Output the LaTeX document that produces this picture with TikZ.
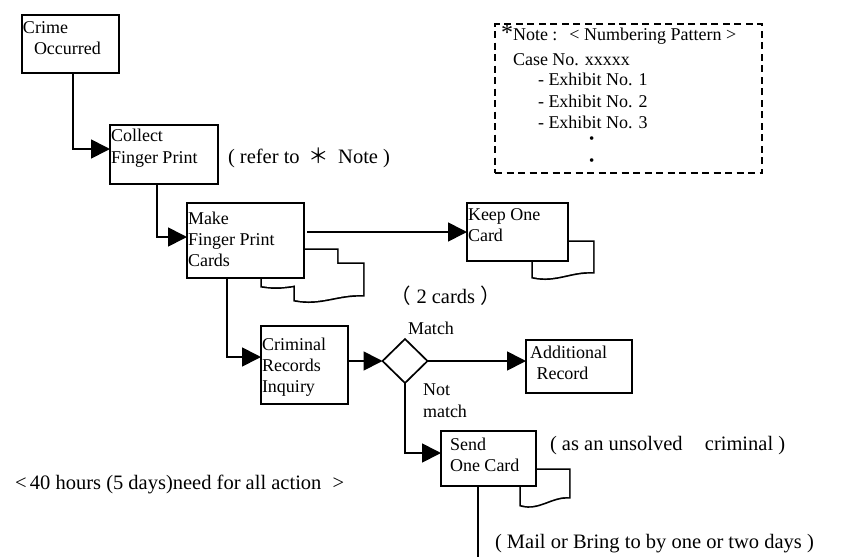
\documentclass[tikz,border=0pt]{standalone}
\usepackage{fontspec}
\setmainfont{Liberation Serif}
\newfontfamily\cjk{Noto Sans CJK SC}
\usetikzlibrary{shapes.geometric,arrows.meta}
\newcommand\rows[1]{\begin{tabular}[t]{@{}l@{}}#1\end{tabular}}

\begin{document}
\begin{tikzpicture}[x=1pt,y=-1pt,
  every node/.style={inner sep=0pt, outer sep=0pt, font=\fontsize{18}{21.3}\selectfont},
  flowbox/.style 2 args={draw, fill=white, line width=1.7pt, anchor=north west,
    minimum width=#1, minimum height=#2},
  decision/.style={diamond, draw, fill=white, line width=1.7pt,
    minimum width=45pt, minimum height=44pt},
  notebox/.style={draw, dash pattern=on 7pt off 4.5pt, line width=1.5pt,
    anchor=north west, minimum width=267pt, minimum height=149pt},
  conn/.style={line width=1.7pt},
  flow/.style={conn, -{Triangle[length=19pt,width=19pt]}},
  txt/.style={anchor=base west, align=left},
  remark/.style={txt, font=\fontsize{20.5}{24}\selectfont},
  % card outline with a wavy lower edge: left, top, right, right foot, left foot
  sheet/.style n args={5}{insert path={(#1,#2) -- (#3,#2) -- (#3,#4)
    .. controls ({#1+0.62*(#3-#1)},{#4-1}) and ({#1+0.38*(#3-#1)},{#5+5}) .. (#1,#5) -- cycle}},
  sheetedge/.style={draw, line width=3.4pt},
  sheetfill/.style={fill=white},
]
\fill[white] (0,0) rectangle (843,557);
\useasboundingbox (0,0) rectangle (843,557);

% stacked cards behind the boxes (outer outline only)
\path[sheetedge, sheet={295}{264}{363}{295}{300}, sheet={262}{250}{337}{280}{286}];
\path[sheetfill, sheet={295}{264}{363}{295}{300}, sheet={262}{250}{337}{280}{286}];
\path[sheetedge, sheet={533}{242}{593}{272}{277}];
\path[sheetfill, sheet={533}{242}{593}{272}{277}];
\path[sheetedge, sheet={521}{470}{569}{497}{505}];
\path[sheetfill, sheet={521}{470}{569}{497}{505}];

% process boxes
\node[flowbox={97pt}{58pt}]  (crime)   at (22,15)   {};
\node[flowbox={108pt}{59pt}] (collect) at (110,125) {};
\node[flowbox={117pt}{75pt}] (make)    at (187,203) {};
\node[flowbox={101pt}{58pt}] (keep)    at (467,203) {};
\node[flowbox={87pt}{78pt}]  (crim)    at (261,326) {};
\node[flowbox={106pt}{53pt}] (addrec)  at (526,340) {};
\node[flowbox={95pt}{55pt}]  (send)    at (441,431) {};
\node[decision] (match) at (405,361) {};
\node[notebox] (note) at (495,24) {};

% box texts
\node[txt] (crimeT)   at (23,33.5)   {\rows{Crime\\\hspace{11pt}Occurred}};
\node[txt] (collectT) at (111,141.7) {\rows{Collect\\Finger Print}};
\node[txt] (makeT)    at (188,224.3) {\rows{Make\\Finger Print\\Cards}};
\node[txt] (keepT)    at (468,220)   {\rows{Keep One\\Card}};
\node[txt] (crimT)    at (262,350)   {\rows{Criminal\\Records\\Inquiry}};
\node[txt] (addrecT)  at (530,358)   {\rows{Additional\\\hspace{6.5pt}Record}};
\node[txt] (sendT)    at (450,450)   {\rows{Send\\One Card}};

% connectors
\draw[flow] ([xshift=2.5pt]crime.south) |- ([yshift=5.5pt]collect.west);
\draw[flow] ([xshift=-7pt]collect.south) |- ([yshift=3.5pt]make.west);
\draw[flow] ([xshift=3pt]make.east |- keep.west) -- (keep.west);
\draw[flow] ([xshift=-18.5pt]make.south) |- ([yshift=8pt]crim.west);
\draw[flow] (crim.east |- match.west) -- (match.west);
\draw[flow] (match.east) -- (match.east -| addrec.west);
\draw[flow] (match.south) |- ([yshift=5.5pt]send.west);
\coordinate (post) at (478,557);
\draw[conn] (send.south -| post) -- (post);

% annotations
\node[remark] (refer)    at (228,163.3) {( refer to\hspace{9pt}{\cjk ＊}\hspace{9pt}Note )};
\node[remark] (twocards) at (390,303)   {{\cjk （}\hspace{6pt}2 cards\hspace{5pt}{\cjk ）}};
\node[txt]    (matchT)   at (408,334.3) {Match};
\node[txt]    (nomatch)  at (423,395.7) {\rows{Not\\match}};
\node[remark] (unsolved) at (550,450)   {( as an unsolved \hspace{12pt} criminal )};
\node[remark] (mail)     at (495,548)   {( Mail or Bring to by one or two days )};
\node[remark] (hours)    at (15,489)    {<\,40 hours (5 days)need for all action \hspace{6pt}>};

% note contents
\node[txt] (noteA) at (501,40)    {{\fontsize{24}{24}\selectfont *}Note :\hspace{12pt}< Numbering Pattern >};
\node[txt] (noteB) at (513,65)    {Case No. xxxxx};
\node[txt] (noteC) at (538,85.7)  {- Exhibit No. 1};
\node[txt] (noteD) at (538,107.3) {- Exhibit No. 2};
\node[txt] (noteE) at (538,128.3) {- Exhibit No. 3};
\node[font=\fontsize{15}{15}\selectfont] (dotA) at (591.7,140) {•};
\node[font=\fontsize{15}{15}\selectfont] (dotB) at (591.7,162) {•};
\end{tikzpicture}
\end{document}
